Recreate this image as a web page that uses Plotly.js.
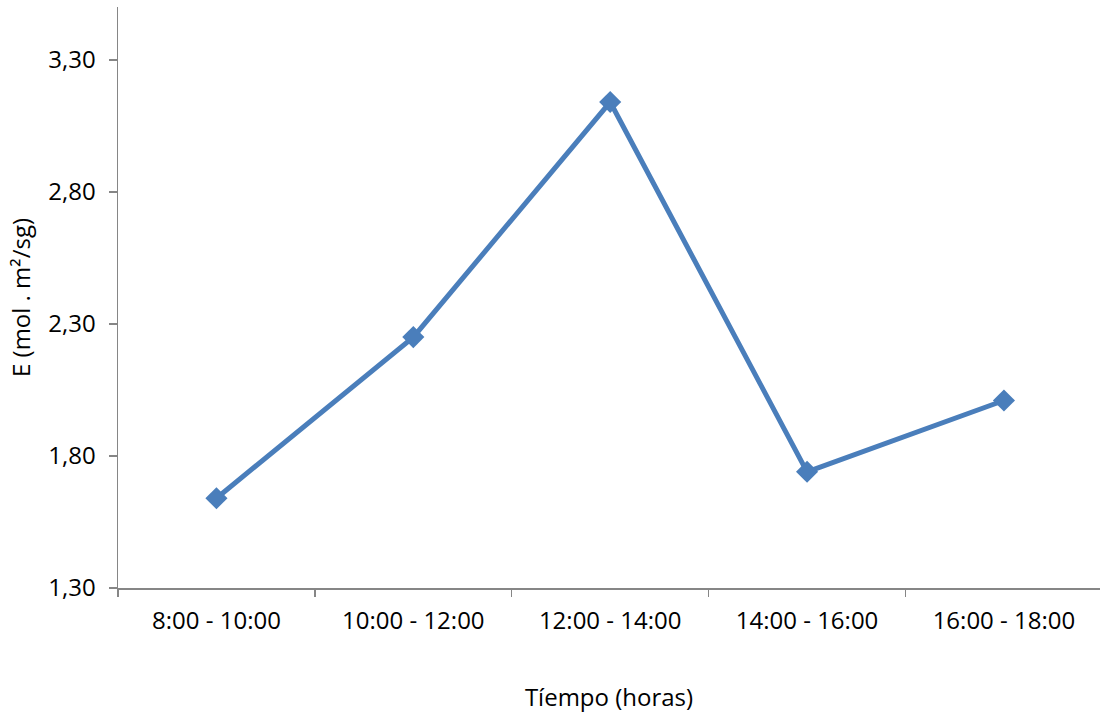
<!DOCTYPE html>
<html>
<head>
<meta charset="utf-8">
<script src="https://cdn.plot.ly/plotly-3.0.1.min.js"></script>
<style>
  html, body { margin: 0; padding: 0; background: #fff; overflow: hidden; }
  #chart { width: 1100px; height: 715px; }
</style>
</head>
<body>
<div id="chart"></div>
<script>
// Transpiration rate by time interval
const periods = ["8:00 - 10:00", "10:00 - 12:00", "12:00 - 14:00", "14:00 - 16:00", "16:00 - 18:00"];
const transpiration = [1.64, 2.25, 3.14, 1.74, 2.01];
const yTickValues = [1.3, 1.8, 2.3, 2.8, 3.3];
const yTickLabels = ["1,30", "1,80", "2,30", "2,80", "3,30"];

const fontFamily = "'Open Sans', 'DejaVu Sans', sans-serif";
const axisGray = "#868686";
const textColor = "#000000";

const trace = {
  x: periods,
  y: transpiration,
  type: "scatter",
  mode: "lines+markers",
  line: { color: "#4a7ebb", width: 5 },
  marker: { symbol: "diamond", size: 17, color: "#4a7ebb" },
  hoverinfo: "x+y"
};

const layout = {
  width: 1100,
  height: 715,
  margin: { l: 118, r: 0, t: 7, b: 127 },
  paper_bgcolor: "#ffffff",
  plot_bgcolor: "#ffffff",
  showlegend: false,
  font: { family: fontFamily, size: 24, color: textColor },
  xaxis: {
    type: "category",
    range: [-0.5, 4.488],
    showline: true,
    linecolor: axisGray,
    linewidth: 1.5,
    showgrid: false,
    zeroline: false,
    ticks: "outside",
    tickson: "boundaries",
    ticklen: 7,
    tickwidth: 1.5,
    tickcolor: axisGray,
    tickfont: { family: fontFamily, size: 24, color: textColor },
    ticklabelstandoff: 11,
    title: { text: "Tíempo (horas)", font: { family: fontFamily, size: 24, color: textColor }, standoff: 54 }
  },
  yaxis: {
    range: [1.3, 3.5],
    showline: true,
    linecolor: axisGray,
    linewidth: 1.5,
    showgrid: false,
    zeroline: false,
    ticks: "outside",
    tickmode: "array",
    tickvals: yTickValues,
    ticktext: yTickLabels,
    ticklen: 8,
    tickwidth: 1.5,
    tickcolor: axisGray,
    tickfont: { family: fontFamily, size: 24, color: textColor },
    ticklabelstandoff: 8,
    title: { text: "E (mol . m²/sg)", font: { family: fontFamily, size: 24, color: textColor }, standoff: 11 }
  }
};

Plotly.newPlot("chart", [trace], layout, { displayModeBar: false, staticPlot: true });
</script>
</body>
</html>
